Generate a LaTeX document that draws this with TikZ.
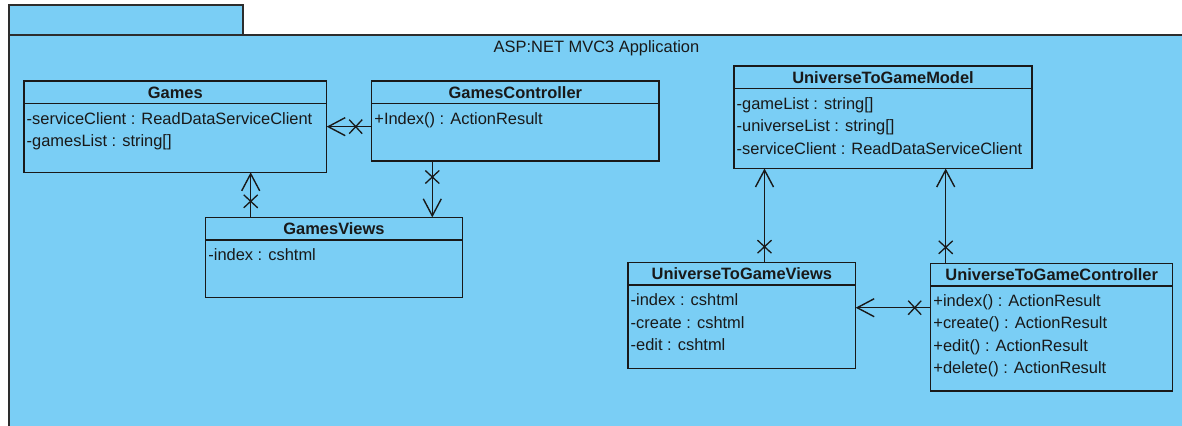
\documentclass[tikz,border=0pt]{standalone}
\usepackage{fontspec}
\setmainfont{Liberation Sans}
\usetikzlibrary{arrows.meta,decorations.markings}
\definecolor{pkgfill}{RGB}{122,206,245}
\definecolor{ink}{RGB}{25,25,25}
\definecolor{pkgline}{RGB}{45,45,45}

\tikzset{
  pkgbox/.style={draw=pkgline, line width=1.8bp, fill=pkgfill},
  classbox/.style={draw=ink, line width=1.5bp, inner sep=0bp, outer sep=0bp, fill=pkgfill},
  classline/.style={draw=ink, line width=1.5bp},
  classtitle/.style={inner sep=0bp, text=ink, font=\fontsize{16.5}{19}\selectfont\bfseries},
  attr/.style={inner sep=0bp, text=ink, font=\fontsize{16.5}{19}\selectfont},
  pkgtitle/.style={inner sep=0bp, text=ink, font=\fontsize{16.5}{19}\selectfont},
  xmark/.style={postaction={decorate}, decoration={markings,
      mark=at position 16bp with {\draw[-, draw=ink, line width=1.3bp]
        (-6.5bp,-7bp) -- (6.5bp,7bp) (-6.5bp,7bp) -- (6.5bp,-7bp);}}},
  assoc/.style={draw=ink, line width=1.4bp,
      -{Straight Barb[length=17bp, width=18bp]}, xmark},
}

% \umlclass{name}{left}{top}{width}{height}{title}{attribute lines}
\newcommand\umlclass[7]{%
  \node[classbox, minimum width=#4bp, minimum height=#5bp, anchor=north west] (#1) at (#2,#3) {};
  \draw[classline] ([yshift=-22.5bp]#1.north west) -- ([yshift=-22.5bp]#1.north east);
  \node[classtitle, anchor=base] at ([yshift=-17bp]#1.north) {#6};
  \foreach \a [count=\i] in {#7}
    \node[attr, anchor=base west] at ([xshift=2.5bp, yshift={-43bp-22.5bp*(\i-1)}]#1.north west) {\a};
}

\begin{document}
\begin{tikzpicture}[x=1bp,y=-1bp]
  \useasboundingbox (0,0) rectangle (1182,425);
  \clip (0,0) rectangle (1182,425);
  \fill[white] (0,0) rectangle (1182,425);

  % package with its tab; the body runs on past the right and bottom edges
  \draw[pkgbox] (9,5) rectangle (243,35);
  \draw[pkgbox] (9,35) rectangle (1230,470);
  \node[pkgtitle] (pkg) at (596.5,48) {ASP:NET MVC3 Application};

  % classes
  \umlclass{g}{24}{81}{302.7}{91.3}{Games}{-serviceClient : ReadDataServiceClient,-gamesList : string[]}
  \umlclass{gc}{371.7}{81}{287.3}{80}{GamesController}{+Index() : ActionResult}
  \umlclass{gv}{205.7}{217.3}{256.6}{80.2}{GamesViews}{-index : cshtml}
  \umlclass{um}{734}{66}{298}{102.5}{UniverseToGameModel}{-gameList : string[],-universeList : string[],-serviceClient : ReadDataServiceClient}
  \umlclass{uv}{628}{262.7}{227.7}{105.6}{UniverseToGameViews}{-index : cshtml,-create : cshtml,-edit : cshtml}
  \umlclass{uc}{930.7}{263.3}{242}{127.7}{UniverseToGameController}{+index() : ActionResult,+create() : ActionResult,+edit() : ActionResult,+delete() : ActionResult}

  % connector anchor points on the box edges
  \coordinate (c1) at ([xshift=45bp]gv.north west);
  \coordinate (c2) at ([xshift=60.6bp]gc.south west);
  \coordinate (c3) at ([xshift=136.5bp]uv.north west);
  \coordinate (c4) at ([xshift=15bp]uc.north west);
  \coordinate (c5) at ([yshift=-44.4bp]uc.north west);

  % associations
  \draw[assoc] (gc.west |- g.east) -- (g.east);
  \draw[assoc] (c1) -- (c1 |- g.south);
  \draw[assoc] (c2) -- (c2 |- gv.north);
  \draw[assoc] (c3) -- (c3 |- um.south);
  \draw[assoc] (c4) -- (c4 |- um.south);
  \draw[assoc] (c5) -- (c5 -| uv.east);
\end{tikzpicture}
\end{document}
